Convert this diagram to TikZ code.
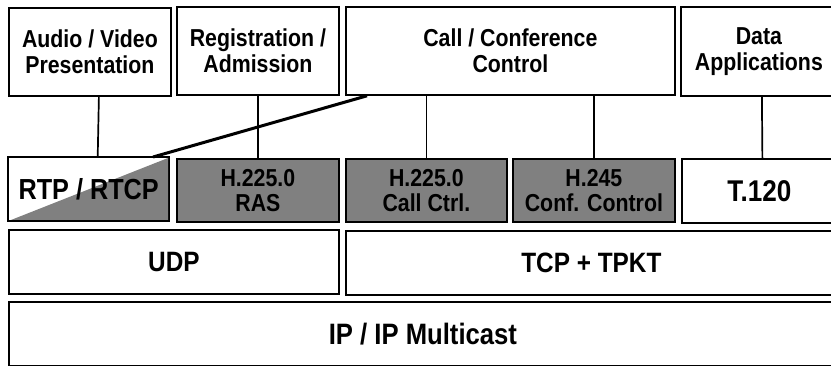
\documentclass[tikz,border=0pt]{standalone}
\usepackage{fontspec}
\setmainfont[FakeStretch=0.87,BoldFont={Liberation Sans Bold},
  BoldFeatures={FakeStretch=0.87}]{Liberation Sans}
\begin{document}
\begin{tikzpicture}[x=1pt,y=-1pt,
  layer/.style={draw=black,line width=1.8pt,inner sep=0pt,anchor=north west,
    align=center,font=\bfseries},
  toptext/.style={font=\bfseries\fontsize{24.5}{26.5}\selectfont},
  shaded/.style={fill=black!50},
  link/.style={line width=1.7pt},
  biglink/.style={line width=3pt}]
\useasboundingbox (0,0) rectangle (831,366);
\clip (0,0) rectangle (831,366);

% application layer
\node[layer,toptext,minimum width=162pt,minimum height=88pt] (aud) at (8,7)
  {Audio / Video\\Presentation};
\node[layer,toptext,minimum width=162pt,minimum height=88pt] (reg) at (176,6)
  {Registration /\\Admission};
\node[layer,toptext,minimum width=329pt,minimum height=88pt] (call) at (345,6)
  {Call / Conference\\Control};
\node[layer,toptext,minimum width=156pt,minimum height=89pt] (data) at (680,6)
  {Data\\Applications};

% protocol layer: RTP / RTCP is half white, half shaded
\coordinate (rtpNW) at (8,157);
\draw[line width=1.8pt] (8,157) rectangle (169,221);
\fill[black!50] (11,220) -- (168,158) -- (168,220) -- cycle;
\node[font=\bfseries\fontsize{29}{31}\selectfont,inner sep=0pt,
  minimum width=161pt,minimum height=64pt,anchor=north west] (rtp) at (rtpNW)
  {RTP / RTCP};
\node[layer,shaded,font=\bfseries\fontsize{24.5}{25.5}\selectfont,
  minimum width=162pt,minimum height=63pt] (ras) at (176,158)
  {H.225.0\\RAS};
\node[layer,shaded,font=\bfseries\fontsize{24.5}{25.5}\selectfont,
  minimum width=161pt,minimum height=63pt] (cc) at (345,158)
  {H.225.0\\Call Ctrl.};
\node[layer,shaded,font=\bfseries\fontsize{24.5}{25.5}\selectfont,
  minimum width=162pt,minimum height=63pt] (h245) at (512,158)
  {H.245\\Conf. Control};
\node[layer,font=\bfseries\fontsize{30}{32}\selectfont,
  minimum width=155pt,minimum height=64pt] (t120) at (681,158)
  {T.120};

% transport layer
\node[layer,font=\bfseries\fontsize{28}{30}\selectfont,
  minimum width=330pt,minimum height=64pt] (udp) at (8,229)
  {UDP};
\node[layer,font=\bfseries\fontsize{28}{30}\selectfont,
  minimum width=491pt,minimum height=64pt] (tcp) at (345,230)
  {TCP + TPKT};

% network layer
\node[layer,font=\bfseries\fontsize{29.5}{31}\selectfont,
  minimum width=828pt,minimum height=64pt] (ip) at (8,301)
  {IP / IP Multicast};

% connectors between layers
\draw[link] ([xshift=9pt]aud.south) -- ([xshift=9pt]rtp.north);
\draw[link] (reg.south) -- (ras.north);
\draw[link] (cc.north |- call.south) -- (cc.north);
\draw[link] (h245.north |- call.south) -- (h245.north);
\draw[link] ([xshift=3pt]data.south) -- ([xshift=3pt]t120.north);
\draw[biglink] ([xshift=22pt]call.south west) -- ([xshift=145pt]rtp.north west);
\end{tikzpicture}
\end{document}
